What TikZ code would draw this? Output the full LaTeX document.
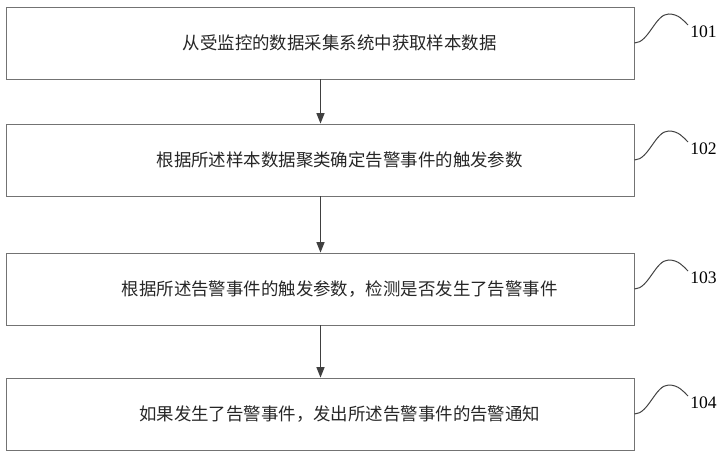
\documentclass[tikz,border=0pt]{standalone}
\usepackage{fontspec}
\setmainfont{Liberation Serif}
\newfontfamily\cjk{Noto Sans CJK SC}
\usetikzlibrary{arrows.meta}

\begin{document}
\begin{tikzpicture}[x=0.025cm,y=-0.025cm,>={Triangle[length=2.6mm,width=2mm]},
  stepbox/.style={draw=black!55,line width=0.6pt,minimum width=15.675cm,minimum height=1.8cm,inner sep=0pt},
  steptext/.style={font=\cjk\fontsize{12.4}{14}\selectfont,text=black!85},
  flow/.style={->,draw=black!75,line width=0.8pt},
  wave/.style={draw=black!75,line width=0.7pt},
  tag/.style={anchor=west,font=\fontsize{12.5}{14}\selectfont,inner sep=0pt}]
\useasboundingbox (0,0) rectangle (723,457);
% steps
\node[stepbox,label={[steptext,xshift=0.48cm]center:从受监控的数据采集系统中获取样本数据}] (b1) at (320.5,43){};
\node[stepbox,label={[steptext,xshift=0.48cm]center:根据所述样本数据聚类确定告警事件的触发参数}] (b2) at (320.5,160){};
\node[stepbox,label={[steptext,xshift=0.48cm]center:根据所述告警事件的触发参数，检测是否发生了告警事件}] (b3) at (320.5,289){};
\node[stepbox,label={[steptext,xshift=0.48cm]center:如果发生了告警事件，发出所述告警事件的告警通知}] (b4) at (320.5,414){};
\draw[flow] (b1)--(b2);\draw[flow] (b2)--(b3);\draw[flow] (b3)--(b4);
% reference numbers
\foreach \i/\y in {1/43,2/160,3/289,4/414}{
  \node[tag] (n\i) at (690,\y-11){10\i};
  \coordinate (w\i) at (688,\y-18);
  \draw[wave] (b\i.east) .. controls +(14,0) and +(-13,0) .. ++(34,-29) .. controls +(10,0) and +(-5,-5) .. (w\i);}
\end{tikzpicture}
\end{document}
